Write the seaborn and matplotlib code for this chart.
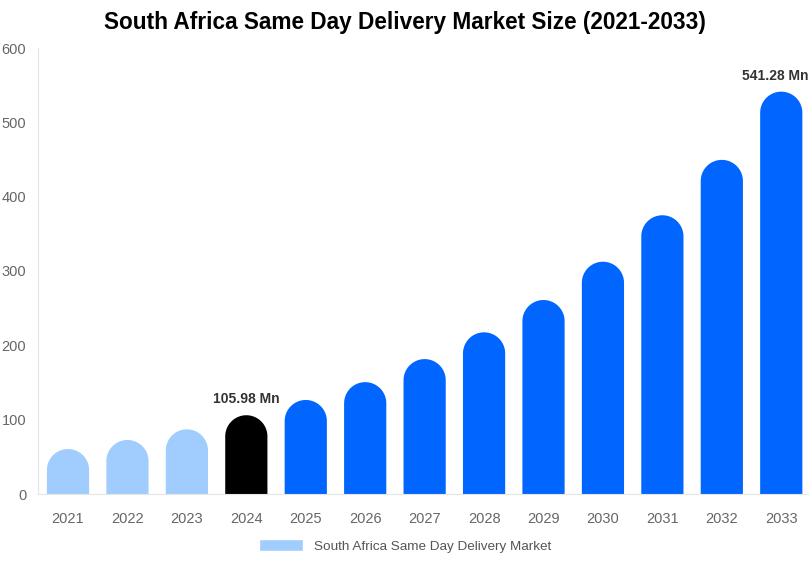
import matplotlib
matplotlib.use("Agg")
from matplotlib import pyplot as plt
from matplotlib.patches import PathPatch, Patch
from matplotlib.path import Path
import numpy as np
import pandas as pd
import seaborn as sns

# Data
years = ["2021", "2022", "2023", "2024", "2025", "2026", "2027",
         "2028", "2029", "2030", "2031", "2032", "2033"]
values = [60.5, 72.7, 87.0, 105.98, 126.5, 150.5, 181.5,
          217.5, 261.0, 312.5, 375.0, 449.5, 541.28]
bar_colors = ["#A0CDFD", "#A0CDFD", "#A0CDFD", "#000000", "#0066FF", "#0066FF", "#0066FF",
              "#0066FF", "#0066FF", "#0066FF", "#0066FF", "#0066FF", "#0066FF"]
labelled = {"2024": "105.98 Mn", "2033": "541.28 Mn"}
legend_label = "South Africa Same Day Delivery Market"

df = pd.DataFrame({"Year": years, "Value": values})

sns.set_style("white")
plt.rcParams["font.family"] = ["Liberation Sans", "DejaVu Sans"]

fig = plt.figure(figsize=(8.1, 5.62), dpi=100)
ax = fig.add_axes([38 / 810, 68 / 562, 770 / 810, 446 / 562])

sns.barplot(data=df, x="Year", y="Value", hue="Year", palette=bar_colors,
            legend=False, width=0.71, ax=ax, saturation=1)

ax.set_xlim(-0.505, 12.45)
ax.set_ylim(0, 600)
ax.set_yticks(range(0, 601, 100))

# Replace each bar with a rounded-top version (single path per bar)
fig.canvas.draw()
px_per_x = ax.transData.transform((1, 0))[0] - ax.transData.transform((0, 0))[0]
px_per_y = ax.transData.transform((0, 1))[1] - ax.transData.transform((0, 0))[1]
theta = np.linspace(0, np.pi, 40)
for bar in list(ax.patches):
    x0, w, h = bar.get_x(), bar.get_width(), bar.get_height()
    col = bar.get_facecolor()
    r_y = (w * px_per_x / 2) / px_per_y
    cx, cy = x0 + w / 2, h - r_y
    arc_x = cx + (w / 2) * np.cos(theta)
    arc_y = cy + r_y * np.sin(theta)
    verts = [(x0 + w, 0)] + list(zip(arc_x, arc_y)) + [(x0, 0), (x0 + w, 0)]
    codes = [Path.MOVETO] + [Path.LINETO] * (len(verts) - 2) + [Path.CLOSEPOLY]
    bar.remove()
    ax.add_patch(PathPatch(Path(verts, codes), facecolor=col, edgecolor="none"))

for i, y in enumerate(years):
    if y in labelled:
        if i == len(years) - 1:
            ax.text(i + 0.45, values[i] + 12, labelled[y], ha="right", va="bottom",
                    fontsize=10, fontweight="bold", color="#333333")
        else:
            ax.text(i, values[i] + 12, labelled[y], ha="center", va="bottom",
                    fontsize=10, fontweight="bold", color="#333333")

for side in ["top", "right"]:
    ax.spines[side].set_visible(False)
ax.spines["left"].set_color("#E6E6E6")
ax.spines["bottom"].set_color("#E6E6E6")
ax.tick_params(axis="x", colors="#666666", labelsize=10.5, length=0, pad=13)
ax.tick_params(axis="y", colors="#666666", labelsize=10.5, length=0, pad=8.5)
ax.set_xlabel("")
ax.set_ylabel("")

fig.suptitle("South Africa Same Day Delivery Market Size (2021-2033)",
             fontsize=16.3, fontweight="bold", y=0.98, color="black")

fig.legend(handles=[Patch(facecolor="#A0CDFD", label=legend_label)],
           loc="lower center", bbox_to_anchor=(0.5, -0.005), frameon=False,
           fontsize=9.7, labelcolor="#555555", handlelength=3.3, handleheight=1.0)

fig.savefig("out.png", dpi=100)
